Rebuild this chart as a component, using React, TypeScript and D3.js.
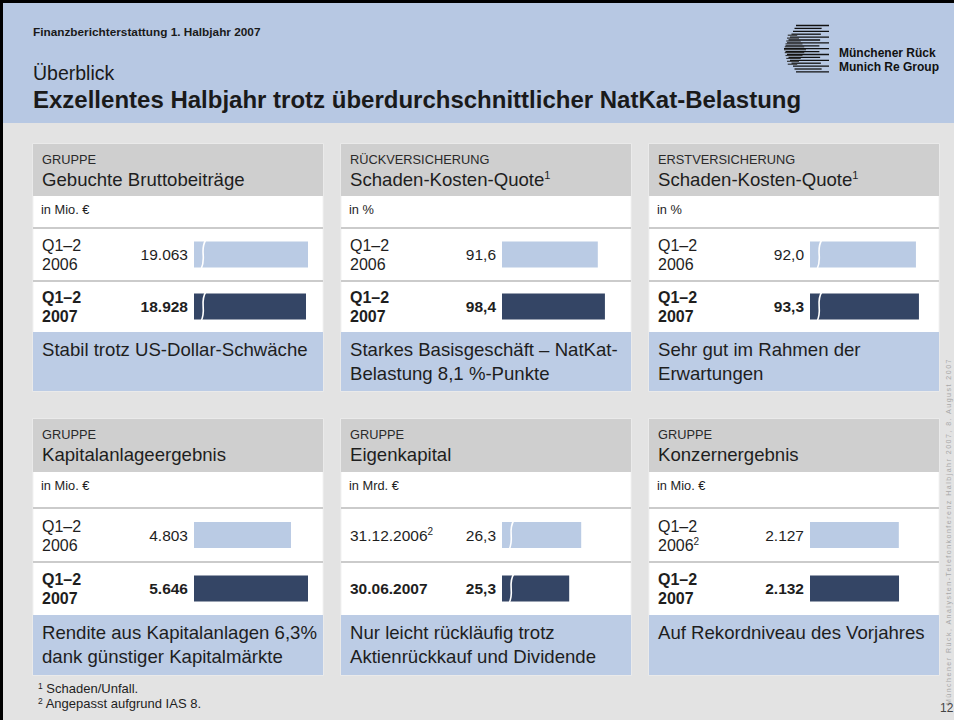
import React from 'react';
import * as d3 from 'd3';

// ---------- data ----------
const panelKickers = ['GRUPPE', 'RÜCKVERSICHERUNG', 'ERSTVERSICHERUNG', 'GRUPPE', 'GRUPPE', 'GRUPPE'];
const panelTitles = ['Gebuchte Bruttobeiträge', 'Schaden-Kosten-Quote', 'Schaden-Kosten-Quote', 'Kapitalanlageergebnis', 'Eigenkapital', 'Konzernergebnis'];
const panelTitleSups = ['', '1', '1', '', '', ''];
const panelUnits = ['in Mio. €', 'in %', 'in %', 'in Mio. €', 'in Mrd. €', 'in Mio. €'];
// period labels: [line1, line2, superscript]
const periodPrev = [
  ['Q1–2', '2006', ''], ['Q1–2', '2006', ''], ['Q1–2', '2006', ''],
  ['Q1–2', '2006', ''], ['31.12.2006', '', '2'], ['Q1–2', '2006', '2'],
];
const periodCurr = [
  ['Q1–2', '2007'], ['Q1–2', '2007'], ['Q1–2', '2007'],
  ['Q1–2', '2007'], ['30.06.2007', ''], ['Q1–2', '2007'],
];
const valuesPrev = [19063, 91.6, 92.0, 4803, 26.3, 2127];
const valuesCurr = [18928, 98.4, 93.3, 5646, 25.3, 2132];
const valueFormats = [',d', ',.1f', ',.1f', ',d', ',.1f', ',d'];
// scale domains (broken axes start above zero)
const axisStart = [11400, 0, 46, 0, 19.7, 0];
const axisEnd = [19063, 109, 95.5, 5646, 29.2, 2730];
const axisBroken = [true, false, true, false, true, false];
const captions = [
  ['Stabil trotz US-Dollar-Schwäche'],
  ['Starkes Basisgeschäft – NatKat-', 'Belastung 8,1 %-Punkte'],
  ['Sehr gut im Rahmen der', 'Erwartungen'],
  ['Rendite aus Kapitalanlagen 6,3%', 'dank günstiger Kapitalmärkte'],
  ['Nur leicht rückläufig trotz', 'Aktienrückkauf und Dividende'],
  ['Auf Rekordniveau des Vorjahres'],
];
const footnotes = [['1', 'Schaden/Unfall.'], ['2', 'Angepasst aufgrund IAS 8.']];

// ---------- style ----------
const FONT = '"Liberation Sans", Arial, Helvetica, sans-serif';
const C = {
  headerBlue: '#B7C8E3',
  bg: '#E3E3E3',
  panelHead: '#CFCFCF',
  caption: '#BCCCE5',
  barLight: '#BACBE4',
  barDark: '#344565',
  sep: '#CBCBCB',
  text: '#1E1E1E',
};

const de = d3.formatLocale({ decimal: ',', thousands: '.', grouping: [3], currency: ['', ' €'] });

const colLeft = [33, 341, 649];
const PW = 290;
const rows = [
  { top: 144, head: 196, sep1: 228, sep2: 281, cap: 332, bottom: 391 },
  { top: 419, head: 472, sep1: 508, sep2: 562, cap: 615, bottom: 675 },
];
const BAR_X = 161;
const BAR_W = 114;
const BAR_H = 26;

function Panel({ i }: { i: number }) {
  const r = rows[Math.floor(i / 3)];
  const x0 = colLeft[i % 3];
  const fmt = de.format(valueFormats[i]);
  const x = d3.scaleLinear().domain([axisStart[i], axisEnd[i]]).range([0, BAR_W]);
  const c1 = (r.sep1 + r.sep2) / 2;
  const c2 = (r.sep2 + r.cap) / 2;
  const bars = [
    { c: c1, v: valuesPrev[i], fill: C.barLight, bold: false, lab: periodPrev[i] },
    { c: c2, v: valuesCurr[i], fill: C.barDark, bold: true, lab: periodCurr[i] },
  ];
  return (
    <g>
      <rect x={x0} y={r.top} width={PW} height={r.bottom - r.top} fill="#fff" stroke="#F2F2F2" strokeWidth={1} />
      <rect x={x0} y={r.top} width={PW} height={r.head - r.top} fill={C.panelHead} />
      <text x={x0 + 9} y={r.top + 20} fontSize={12.8} fill="#2a2a2a">{panelKickers[i]}</text>
      <text x={x0 + 9} y={r.top + 41.5} fontSize={18.6} fill={C.text}>
        {panelTitles[i]}
        {panelTitleSups[i] && <tspan fontSize={11} dy={-7}>{panelTitleSups[i]}</tspan>}
      </text>
      <text x={x0 + 8} y={r.head + 17.5} fontSize={12.8} fill={C.text}>{panelUnits[i]}</text>
      <rect x={x0} y={r.sep1 - 1} width={PW} height={2} fill={C.sep} />
      <rect x={x0} y={r.sep2 - 1} width={PW} height={2} fill={C.sep} />
      {bars.map((b, k) => {
        const w = x(b.v);
        const top = b.c - BAR_H / 2;
        const bx = x0 + BAR_X;
        const two = b.lab[1] !== '';
        return (
          <g key={k}>
            {two ? (
              <text x={x0 + 9} fontSize={16} fontWeight={b.bold ? 'bold' : 'normal'} fill={C.text}>
                <tspan x={x0 + 9} y={b.c - 3.5}>{b.lab[0]}</tspan>
                <tspan x={x0 + 9} y={b.c + 15.5}>{b.lab[1]}</tspan>
                {b.lab[2] && <tspan fontSize={10} dy={-6}>{b.lab[2]}</tspan>}
              </text>
            ) : (
              <text x={x0 + 9} y={b.c + 5.5} fontSize={15.5} fontWeight={b.bold ? 'bold' : 'normal'} fill={C.text}>
                {b.lab[0]}
                {b.lab[2] && <tspan fontSize={10} dy={-6}>{b.lab[2]}</tspan>}
              </text>
            )}
            <text x={bx - 6} y={b.c + 5.5} textAnchor="end" fontSize={15.5} fontWeight={b.bold ? 'bold' : 'normal'} fill={C.text}>
              {fmt(b.v)}
            </text>
            <rect x={bx} y={top} width={w} height={BAR_H} fill={b.fill} />
            {axisBroken[i] && (
              <path
                d={`M${bx + 12},${top - 2} C${bx + 5},${top + BAR_H * 0.35} ${bx + 13},${top + BAR_H * 0.6} ${bx + 7},${top + BAR_H + 2}`}
                fill="none"
                stroke="#fff"
                strokeWidth={1.6}
              />
            )}
          </g>
        );
      })}
      <rect x={x0} y={r.cap} width={PW} height={r.bottom - r.cap} fill={C.caption} />
      {captions[i].map((t, k) => (
        <text key={k} x={x0 + 9} y={r.cap + 24 + k * 23.5} fontSize={18.6} fill={C.text}>{t}</text>
      ))}
    </g>
  );
}

function Logo() {
  const n = 17;
  const lines = d3.range(n).map((k) => {
    const t = k / (n - 1);
    const d = Math.abs(t - 0.5) * 2;
    const y = 25.5 + k * 2.9;
    const left = 784 + d * 12;
    const right = k % 2 === 0 ? 829 : 822 - (1 - d) * 3;
    return { y, left, right, d };
  });
  return (
    <g>
      {lines.map((l, k) => (
        <g key={k}>
          <line x1={l.left} x2={l.right} y1={l.y} y2={l.y} stroke="#111" strokeWidth={1.3} />
          {l.d < 0.75 && (
            <line x1={784 + l.d * 6} x2={806 - l.d * 14} y1={l.y + 1} y2={l.y + 1} stroke="#333" strokeWidth={1.2} />
          )}
        </g>
      ))}
    </g>
  );
}

export default function App() {
  return (
    <svg
      width={954}
      height={720}
      viewBox="0 0 954 720"
      style={{ position: 'absolute', left: 0, top: 0, display: 'block' }}
      fontFamily={FONT}
    >
      <rect x={0} y={0} width={954} height={720} fill={C.bg} />
      <rect x={0} y={0} width={954} height={123} fill={C.headerBlue} />
      <rect x={0} y={0} width={954} height={3} fill="#000" />
      <rect x={0} y={0} width={3} height={720} fill="#000" />

      <text x={33} y={36} fontSize={11.8} fontWeight="bold" fill="#1a1a1a">Finanzberichterstattung 1. Halbjahr 2007</text>
      <text x={33} y={80} fontSize={19.5} fill="#1a1a1a">Überblick</text>
      <text x={33} y={108} fontSize={24} fontWeight="bold" fill="#1a1a1a">Exzellentes Halbjahr trotz überdurchschnittlicher NatKat-Belastung</text>

      <Logo />
      <text x={839} y={57} fontSize={12} fontWeight="bold" fill="#111">Münchener Rück</text>
      <text x={839} y={71} fontSize={12} fontWeight="bold" fill="#111">Munich Re Group</text>

      {d3.range(6).map((i) => <Panel key={i} i={i} />)}

      {footnotes.map((f, k) => (
        <text key={k} x={38} y={693 + k * 15} fontSize={13} fill={C.text}>
          <tspan fontSize={8.5} dy={-4.5}>{f[0]}</tspan>
          <tspan dy={4.5}> {f[1]}</tspan>
        </text>
      ))}

      <text transform="translate(951,705) rotate(-90)" fontSize={7} fill="#a8a8a8" letterSpacing={1.5}>
        Münchener Rück, Analysten-Telefonkonferenz Halbjahr 2007, 8. August 2007
      </text>
      <text x={940} y={712} fontSize={12} fill="#444">12</text>
    </svg>
  );
}
